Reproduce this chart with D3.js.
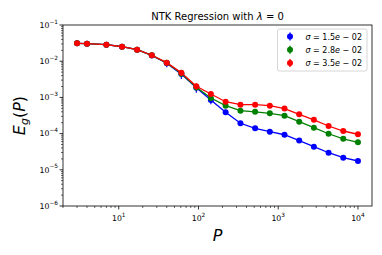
<!DOCTYPE html>
<html>
<head>
<meta charset="utf-8">
<script src="https://cdn.jsdelivr.net/npm/d3@7"></script>
<style>
  body { margin: 0; background: #fff; }
  text { font-family: "DejaVu Sans", sans-serif; }
</style>
</head>
<body>
<svg width="382" height="255"></svg>
<script>
(function (d3) {
  'use strict';

  // Training set sizes
  const P = [3, 4, 7, 11, 17, 26, 40, 61, 94, 143, 219, 336, 513, 785, 1199, 1833, 2801, 4281, 6543, 10000];

  // Generalization error for each sigma
  const blue = [0.0312, 0.0305, 0.0286, 0.0251, 0.0208, 0.0144, 0.0088, 0.0044, 0.00185, 8.5e-4,
    3.87e-4, 1.93e-4, 1.4e-4, 1.13e-4, 9.3e-5, 6.4e-5, 4.35e-5, 2.96e-5, 2.16e-5, 1.75e-5];
  const green = [0.0312, 0.0305, 0.0286, 0.0251, 0.0208, 0.0145, 0.0090, 0.0046, 0.0019, 9.6e-4,
    5.9e-4, 4.3e-4, 4.0e-4, 3.64e-4, 3.12e-4, 2.13e-4, 1.46e-4, 9.9e-5, 7.2e-5, 5.75e-5];
  const red = [0.0312, 0.0305, 0.0286, 0.0251, 0.0208, 0.0146, 0.0091, 0.0048, 0.00203, 0.00124,
    7.6e-4, 6.3e-4, 6.3e-4, 5.9e-4, 4.9e-4, 3.4e-4, 2.4e-4, 1.62e-4, 1.18e-4, 9.6e-5];

  // Error bar half widths (small, mostly hidden under the markers)
  const blueErr = [0.001, 0.001, 0.001, 0.001, 0.001, 0.001, 0.002, 0.0012, 0.0005, 0.0002,
    0.00004, 0.00001, 0.00001, 0.00001, 0.00001, 0.000005, 0.000003, 0.000002, 0.000001, 0.000001];
  const greenErr = [0.001, 0.001, 0.001, 0.001, 0.001, 0.001, 0.0015, 0.001, 0.0004, 0.00015,
    0.00004, 0.00002, 0.00002, 0.00002, 0.00001, 0.00001, 0.000005, 0.000003, 0.000002, 0.000002];
  const redErr = [0.001, 0.001, 0.001, 0.001, 0.001, 0.001, 0.0015, 0.0009, 0.0004, 0.00015,
    0.00005, 0.00003, 0.00003, 0.00003, 0.00002, 0.00001, 0.000008, 0.000005, 0.000004, 0.000003];

  const seriesLabels = ['\u03c3 = 1.5e \u2212 02', '\u03c3 = 2.8e \u2212 02', '\u03c3 = 3.5e \u2212 02'];
  const seriesColors = ['blue', 'green', 'red'];
  const seriesValues = [blue, green, red];
  const seriesErrors = [blueErr, greenErr, redErr];

  const xTickValues = [1e1, 1e2, 1e3, 1e4];
  const yTickValues = [1e-6, 1e-5, 1e-4, 1e-3, 1e-2, 1e-1];

  const svg = d3.select('svg');
  const margin = { left: 63, top: 25, right: 10, bottom: 49 };
  const width = +svg.attr('width') - margin.left - margin.right;
  const height = +svg.attr('height') - margin.top - margin.bottom;

  // matplotlib style 5% padding in log space
  const lo = Math.log10(P[0]), hi = Math.log10(P[P.length - 1]);
  const pad = (hi - lo) * 0.05;
  const xScale = d3.scaleLog()
    .domain([Math.pow(10, lo - pad), Math.pow(10, hi + pad)])
    .range([0, width]);
  const yScale = d3.scaleLog().domain([1e-6, 1e-1]).range([height, 0]);

  const g = svg.append('g').attr('transform', `translate(${margin.left},${margin.top})`);

  // tick labels like 10^-3
  const expLabel = (sel, v) => {
    const e = Math.round(Math.log10(v));
    sel.append('tspan').text('10');
    sel.append('tspan')
      .attr('font-size', 5.8)
      .attr('dy', -4.2)
      .text(e < 0 ? '\u2212' + (-e) : e);
  };

  // minor tick values for a log domain
  const minorTicks = (scale) => {
    const [a, b] = scale.domain();
    const out = [];
    for (let e = Math.floor(Math.log10(a)); e <= Math.ceil(Math.log10(b)); e++) {
      for (let k = 2; k <= 9; k++) {
        const v = k * Math.pow(10, e);
        if (v >= a && v <= b) out.push(v);
      }
    }
    return out;
  };

  // x axis
  const xAxisG = g.append('g').attr('transform', `translate(0,${height})`);
  xAxisG.selectAll('.minor').data(minorTicks(xScale)).enter().append('line')
    .attr('x1', d => xScale(d)).attr('x2', d => xScale(d))
    .attr('y1', 0).attr('y2', 2)
    .attr('stroke', '#000').attr('stroke-width', 0.6);
  const xt = xAxisG.selectAll('.major').data(xTickValues).enter().append('g')
    .attr('transform', d => `translate(${xScale(d)},0)`);
  xt.append('line').attr('y2', 3.5).attr('stroke', '#000').attr('stroke-width', 0.8);
  xt.append('text')
    .attr('y', 15)
    .attr('text-anchor', 'middle')
    .attr('font-size', 7.8)
    .each(function (d) { expLabel(d3.select(this), d); });

  // y axis
  const yAxisG = g.append('g');
  yAxisG.selectAll('.minor').data(minorTicks(yScale)).enter().append('line')
    .attr('y1', d => yScale(d)).attr('y2', d => yScale(d))
    .attr('x1', 0).attr('x2', -2)
    .attr('stroke', '#000').attr('stroke-width', 0.6);
  const yt = yAxisG.selectAll('.major').data(yTickValues).enter().append('g')
    .attr('transform', d => `translate(0,${yScale(d)})`);
  yt.append('line').attr('x2', -3.5).attr('stroke', '#000').attr('stroke-width', 0.8);
  yt.append('text')
    .attr('x', -5)
    .attr('y', 2.8)
    .attr('text-anchor', 'end')
    .attr('font-size', 7.8)
    .each(function (d) { expLabel(d3.select(this), d); });

  // series
  const line = d3.line().x(d => xScale(d[0])).y(d => yScale(d[1]));
  seriesValues.forEach((vals, s) => {
    const color = seriesColors[s];
    const pts = P.map((p, i) => [p, vals[i], seriesErrors[s][i]]);
    const sg = g.append('g');
    sg.append('path').datum(pts)
      .attr('d', line)
      .attr('fill', 'none')
      .attr('stroke', color)
      .attr('stroke-width', 1.3);
    sg.selectAll('.err').data(pts).enter().append('line')
      .attr('x1', d => xScale(d[0])).attr('x2', d => xScale(d[0]))
      .attr('y1', d => yScale(d[1] + d[2]))
      .attr('y2', d => yScale(Math.max(d[1] - d[2], 1e-7)))
      .attr('stroke', color).attr('stroke-width', 1.2);
    sg.selectAll('circle').data(pts).enter().append('circle')
      .attr('cx', d => xScale(d[0]))
      .attr('cy', d => yScale(d[1]))
      .attr('r', 3)
      .attr('fill', color);
  });

  // frame
  g.append('rect')
    .attr('width', width).attr('height', height)
    .attr('fill', 'none').attr('stroke', '#000').attr('stroke-width', 0.8);

  // title
  const title = g.append('text')
    .attr('x', width / 2).attr('y', -5)
    .attr('text-anchor', 'middle')
    .attr('font-size', 10);
  title.append('tspan').text('NTK Regression with ');
  title.append('tspan').attr('font-style', 'italic').text('\u03bb');
  title.append('tspan').text(' = 0');

  // legend
  const legendG = g.append('g').attr('transform', `translate(${width - 94.5},4)`);
  legendG.append('rect')
    .attr('width', 89.5).attr('height', 42).attr('rx', 2)
    .attr('fill', '#fff').attr('stroke', '#ccc').attr('stroke-width', 0.8);
  const rows = legendG.selectAll('.row').data(seriesLabels).enter().append('g')
    .attr('transform', (d, i) => `translate(0,${7.5 + i * 13.3})`);
  rows.append('line')
    .attr('x1', 12.5).attr('x2', 12.5).attr('y1', -4).attr('y2', 4)
    .attr('stroke', (d, i) => seriesColors[i]).attr('stroke-width', 1.4);
  rows.append('circle')
    .attr('cx', 12.5).attr('r', 3)
    .attr('fill', (d, i) => seriesColors[i]);
  rows.append('text')
    .attr('x', 28).attr('y', 3)
    .attr('font-size', 8)
    .each(function (d) {
      const t = d3.select(this);
      t.append('tspan').attr('font-style', 'italic').text('\u03c3');
      t.append('tspan').text(d.slice(1, d.indexOf('e')));
      t.append('tspan').attr('font-style', 'italic').text('e');
      t.append('tspan').text(d.slice(d.indexOf('e') + 1));
    });

  // axis labels
  g.append('text')
    .attr('x', width / 2).attr('y', height + 35)
    .attr('text-anchor', 'middle')
    .attr('font-size', 16)
    .attr('font-style', 'italic')
    .text('P');

  const yLabel = g.append('text')
    .attr('transform', `translate(-38,${height / 2}) rotate(-90)`)
    .attr('text-anchor', 'middle')
    .attr('font-size', 16);
  yLabel.append('tspan').attr('font-style', 'italic').text('E');
  yLabel.append('tspan').attr('font-style', 'italic').attr('font-size', 11).attr('dy', 3).text('g');
  yLabel.append('tspan').attr('dy', -3).text('(');
  yLabel.append('tspan').attr('font-style', 'italic').text('P');
  yLabel.append('tspan').text(')');

}(d3));
</script>
</body>
</html>
